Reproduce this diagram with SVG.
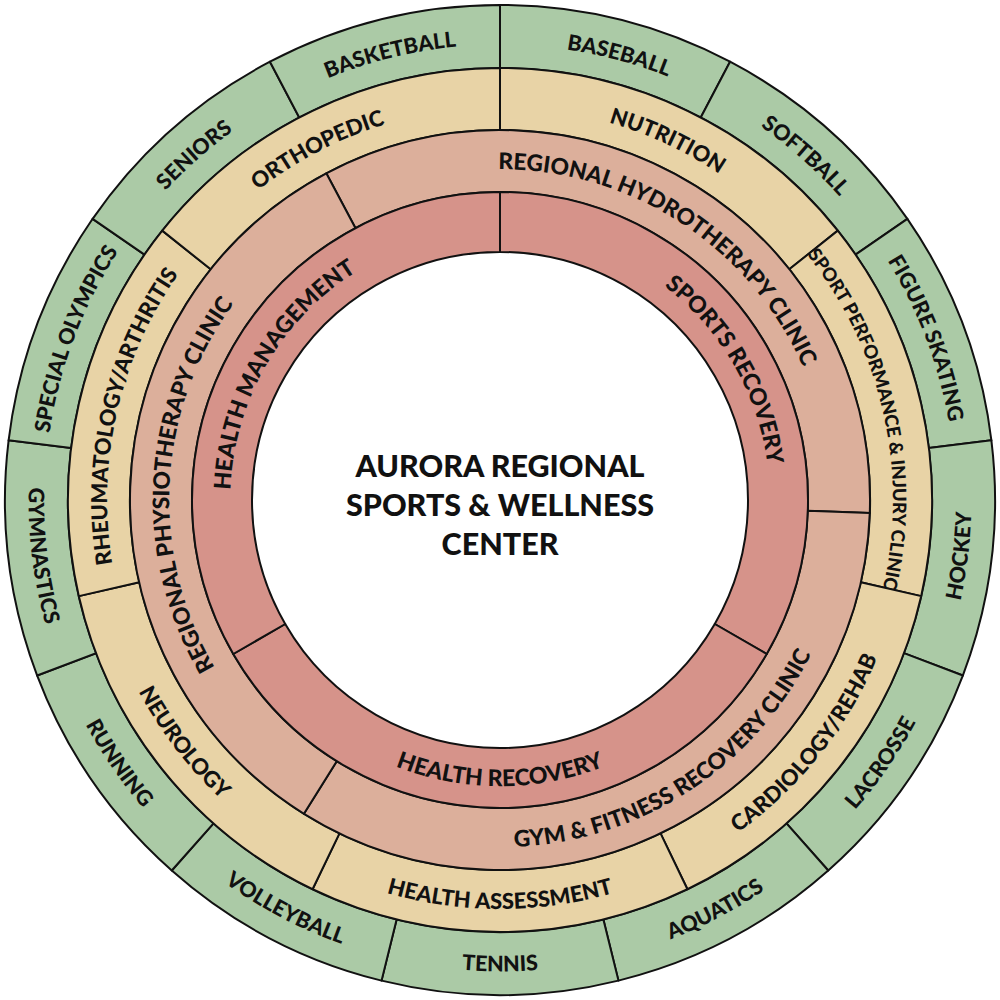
<svg xmlns="http://www.w3.org/2000/svg" width="1000" height="1000" viewBox="0 0 1000 1000">
  <style>
    .sec { stroke: #111; stroke-width: 2; stroke-linejoin: round; }
    .green { fill: #abcaa6; }
    .tan { fill: #e8d3a6; }
    .pink { fill: #dcaf9b; }
    .red { fill: #d6938a; }
    .lbl { font-family: Lato, "Noto Sans", "Liberation Sans", sans-serif; font-weight: 900; font-size: 21.5px; fill: #111; text-anchor: middle; }
    .lbl.t2 { font-size: 22px; }
    .lbl.t3 { font-size: 22.8px; }
    .lbl.t4 { font-size: 23px; }
    .lbl.small { font-size: 18.5px; }
    .title { font-family: Lato, "Noto Sans", "Liberation Sans", sans-serif; font-weight: 900; font-size: 30.5px; fill: #111; text-anchor: middle; }
  </style>
  <defs>
    <!-- one sector per ring, starting at 12 o'clock, rotated into place -->
    <path id="sec-green" d="M500,5 A495,495 0 0 1 730.04,61.70 L700.76,117.48 A432,432 0 0 0 500,68 Z"/>
    <path id="sec-tan" d="M500,68 A432,432 0 0 1 837.75,230.65 L789.28,269.31 A370,370 0 0 0 500,130 Z"/>
    <path id="sec-pink" d="M500,130 A370,370 0 0 1 820.43,685 L766.74,654 A308,308 0 0 0 500,192 Z"/>
    <path id="sec-red" d="M500,192 A308,308 0 0 1 766.74,654 L714.78,624 A248,248 0 0 0 500,252 Z"/>
    <!-- label baselines: cw arcs run over the top, ccw arcs run under the bottom -->
    <path id="cw-green" d="M44.4,500 A455.6,455.6 0 0 1 955.6,500"/>
    <path id="ccw-green" d="M28.6,500 A471.4,471.4 0 0 0 971.4,500"/>
    <path id="cw-tan" d="M107.1,500 A392.9,392.9 0 0 1 892.9,500"/>
    <path id="ccw-tan" d="M90.9,500 A409.1,409.1 0 0 0 909.1,500"/>
    <path id="cw-pink" d="M169.2,500 A330.8,330.8 0 0 1 830.8,500"/>
    <path id="ccw-pink" d="M152.8,500 A347.2,347.2 0 0 0 847.2,500"/>
    <path id="cw-red" d="M230.2,500 A269.8,269.8 0 0 1 769.8,500"/>
    <path id="ccw-red" d="M213.8,500 A286.2,286.2 0 0 0 786.2,500"/>
  </defs>

  <rect width="1000" height="1000" fill="#ffffff"/>

  <!-- outer ring: sports and programs -->
  <g id="baseball"><use href="#sec-green" class="sec green"/><text class="lbl" transform="rotate(15 500 500)"><textPath href="#cw-green" startOffset="50%">BASEBALL</textPath></text></g>
  <g id="softball"><use href="#sec-green" class="sec green" transform="rotate(27.692 500 500)"/><text class="lbl" transform="rotate(41.538 500 500)"><textPath href="#cw-green" startOffset="50%">SOFTBALL</textPath></text></g>
  <g id="figure-skating"><use href="#sec-green" class="sec green" transform="rotate(55.385 500 500)"/><text class="lbl" transform="rotate(69.231 500 500)"><textPath href="#cw-green" startOffset="50%">FIGURE SKATING</textPath></text></g>
  <g id="hockey"><use href="#sec-green" class="sec green" transform="rotate(83.077 500 500)"/><text class="lbl" transform="rotate(-83.077 500 500)"><textPath href="#ccw-green" startOffset="50%">HOCKEY</textPath></text></g>
  <g id="lacrosse"><use href="#sec-green" class="sec green" transform="rotate(110.769 500 500)"/><text class="lbl" transform="rotate(-55.385 500 500)"><textPath href="#ccw-green" startOffset="50%">LACROSSE</textPath></text></g>
  <g id="aquatics"><use href="#sec-green" class="sec green" transform="rotate(138.462 500 500)"/><text class="lbl" transform="rotate(-27.692 500 500)"><textPath href="#ccw-green" startOffset="50%">AQUATICS</textPath></text></g>
  <g id="tennis"><use href="#sec-green" class="sec green" transform="rotate(166.154 500 500)"/><text class="lbl"><textPath href="#ccw-green" startOffset="50%">TENNIS</textPath></text></g>
  <g id="volleyball"><use href="#sec-green" class="sec green" transform="rotate(193.846 500 500)"/><text class="lbl" transform="rotate(27.692 500 500)"><textPath href="#ccw-green" startOffset="50%">VOLLEYBALL</textPath></text></g>
  <g id="running"><use href="#sec-green" class="sec green" transform="rotate(221.538 500 500)"/><text class="lbl" transform="rotate(55.385 500 500)"><textPath href="#ccw-green" startOffset="50%">RUNNING</textPath></text></g>
  <g id="gymnastics"><use href="#sec-green" class="sec green" transform="rotate(249.231 500 500)"/><text class="lbl" transform="rotate(83.077 500 500)"><textPath href="#ccw-green" startOffset="50%">GYMNASTICS</textPath></text></g>
  <g id="special-olympics"><use href="#sec-green" class="sec green" transform="rotate(276.923 500 500)"/><text class="lbl" transform="rotate(290.769 500 500)"><textPath href="#cw-green" startOffset="50%">SPECIAL OLYMPICS</textPath></text></g>
  <g id="seniors"><use href="#sec-green" class="sec green" transform="rotate(304.615 500 500)"/><text class="lbl" transform="rotate(318.462 500 500)"><textPath href="#cw-green" startOffset="50%">SENIORS</textPath></text></g>
  <g id="basketball"><use href="#sec-green" class="sec green" transform="rotate(332.308 500 500)"/><text class="lbl" transform="rotate(346.154 500 500)"><textPath href="#cw-green" startOffset="50%">BASKETBALL</textPath></text></g>

  <!-- second ring: specialties -->
  <g id="nutrition"><use href="#sec-tan" class="sec tan"/><text class="lbl t2" transform="rotate(25 500 500)"><textPath href="#cw-tan" startOffset="50%">NUTRITION</textPath></text></g>
  <g id="sport-performance"><use href="#sec-tan" class="sec tan" transform="rotate(51.429 500 500)"/><text class="lbl small" transform="rotate(77.143 500 500)"><textPath href="#cw-tan" startOffset="50%">SPORT PERFORMANCE &amp; INJURY CLINIC</textPath></text></g>
  <g id="cardiology"><use href="#sec-tan" class="sec tan" transform="rotate(102.857 500 500)"/><text class="lbl t2" transform="rotate(-51.429 500 500)"><textPath href="#ccw-tan" startOffset="50%">CARDIOLOGY/REHAB</textPath></text></g>
  <g id="health-assessment"><use href="#sec-tan" class="sec tan" transform="rotate(154.286 500 500)"/><text class="lbl t2"><textPath href="#ccw-tan" startOffset="50%">HEALTH ASSESSMENT</textPath></text></g>
  <g id="neurology"><use href="#sec-tan" class="sec tan" transform="rotate(205.714 500 500)"/><text class="lbl t2" transform="rotate(52.5 500 500)"><textPath href="#ccw-tan" startOffset="50%">NEUROLOGY</textPath></text></g>
  <g id="rheumatology"><use href="#sec-tan" class="sec tan" transform="rotate(257.143 500 500)"/><text class="lbl t2" transform="rotate(282.857 500 500)"><textPath href="#cw-tan" startOffset="50%">RHEUMATOLOGY/ARTHRITIS</textPath></text></g>
  <g id="orthopedic"><use href="#sec-tan" class="sec tan" transform="rotate(308.571 500 500)"/><text class="lbl t2" transform="rotate(332.5 500 500)"><textPath href="#cw-tan" startOffset="50%">ORTHOPEDIC</textPath></text></g>

  <!-- third ring: clinics -->
  <g id="hydrotherapy"><use href="#sec-pink" class="sec pink" transform="rotate(-28 500 500)"/><text class="lbl t3" transform="rotate(33 500 500)"><textPath href="#cw-pink" startOffset="50%">REGIONAL HYDROTHERAPY CLINIC</textPath></text></g>
  <g id="gym-fitness"><use href="#sec-pink" class="sec pink" transform="rotate(92 500 500)"/><text class="lbl t3" transform="rotate(-33 500 500)"><textPath href="#ccw-pink" startOffset="50%">GYM &amp; FITNESS RECOVERY CLINIC</textPath></text></g>
  <g id="physiotherapy"><use href="#sec-pink" class="sec pink" transform="rotate(212 500 500)"/><text class="lbl t3" transform="rotate(273 500 500)"><textPath href="#cw-pink" startOffset="50%">REGIONAL PHYSIOTHERAPY CLINIC</textPath></text></g>

  <!-- inner ring: service areas -->
  <g id="sports-recovery"><use href="#sec-red" class="sec red"/><text class="lbl t4" transform="rotate(60 500 500)"><textPath href="#cw-red" startOffset="50%">SPORTS RECOVERY</textPath></text></g>
  <g id="health-recovery"><use href="#sec-red" class="sec red" transform="rotate(120 500 500)"/><text class="lbl t4"><textPath href="#ccw-red" startOffset="50%">HEALTH RECOVERY</textPath></text></g>
  <g id="health-management"><use href="#sec-red" class="sec red" transform="rotate(240 500 500)"/><text class="lbl t4" transform="rotate(300 500 500)"><textPath href="#cw-red" startOffset="50%">HEALTH MANAGEMENT</textPath></text></g>

  <!-- hub -->
  <g id="center">
    <text class="title" x="500" y="477">AURORA REGIONAL</text>
    <text class="title" x="500" y="516">SPORTS &amp; WELLNESS</text>
    <text class="title" x="500" y="555">CENTER</text>
  </g>

  <!-- ring edges are drawn by the sectors; no separate connectors -->
  <g id="connectors"/>
</svg>
